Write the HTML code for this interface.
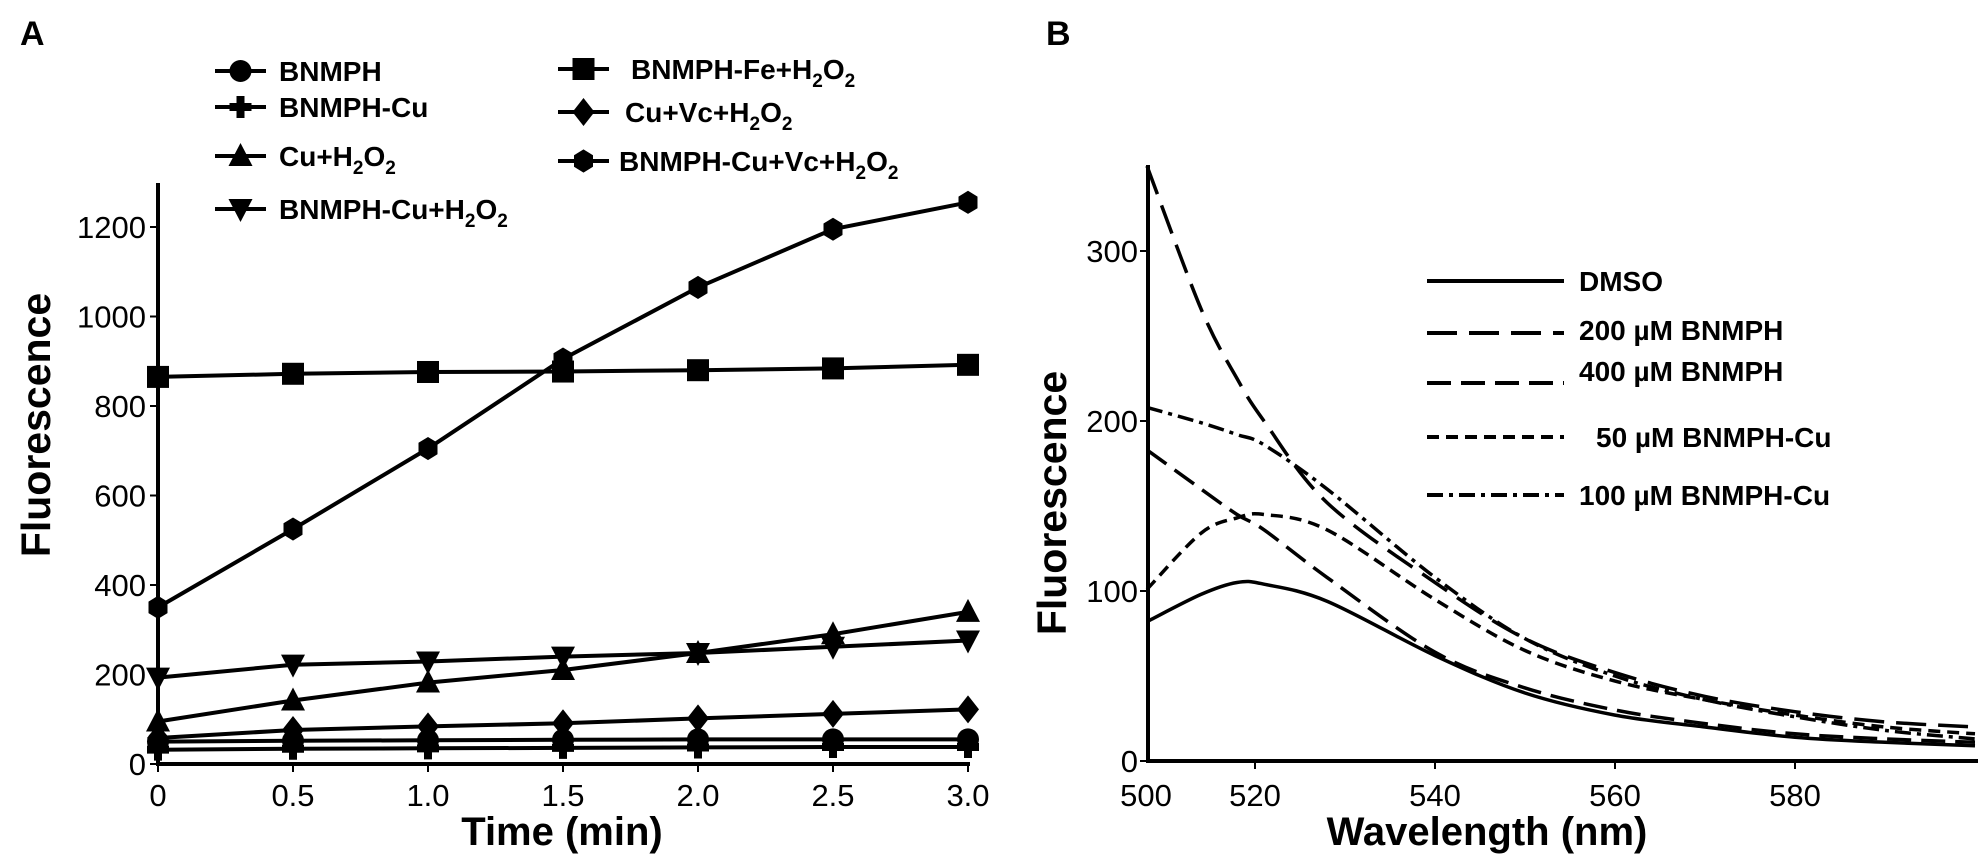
<!DOCTYPE html>
<html><head><meta charset="utf-8">
<style>
html,body{margin:0;padding:0;background:#fff;}
svg{display:block;font-family:"Liberation Sans",Arial,sans-serif;}
</style></head>
<body>
<svg id="fig" width="1978" height="865" viewBox="0 0 1978 865" xmlns="http://www.w3.org/2000/svg">
  <text x="20" y="45" font-size="34" font-weight="bold">A</text>
  <text x="1046" y="45" font-size="34" font-weight="bold">B</text>
  <g id="panelA"></g>
  <g id="panelB"></g>
</svg>
<script>
// ---------- Panel A data ----------
const timeCats = [0, 0.5, 1.0, 1.5, 2.0, 2.5, 3.0];
const xTicksA = ["0", "0.5", "1.0", "1.5", "2.0", "2.5", "3.0"];
const yTicksA = [0, 200, 400, 600, 800, 1000, 1200];
const sBNMPH = [50, 52, 53, 54, 55, 55, 55];
const sBNMPHCu = [32, 34, 35, 36, 37, 38, 38];
const sCuH2O2 = [95, 142, 182, 210, 248, 290, 340];
const sBNMPHCuH2O2 = [193, 222, 229, 240, 248, 262, 276];
const sFeH2O2 = [865, 872, 876, 877, 880, 884, 892];
const sCuVcH2O2 = [58, 76, 84, 91, 102, 112, 122];
const sCuVcBN = [350, 525, 705, 905, 1065, 1195, 1255];

// ---------- Panel B data ----------
const wl = [508, 514, 518, 521, 528, 540, 550, 560, 570, 580, 590, 600];
const yTicksB = [0, 100, 200, 300];
const xTicksB = [520, 540, 560, 580];
const bDMSO = [82, 98, 105, 104, 94, 62, 40, 27, 20, 14, 11, 9];
const b200 = [350, 266, 225, 200, 152, 105, 72, 52, 38, 29, 23, 20];
const b400 = [183, 160, 145, 136, 108, 64, 43, 30, 22, 16, 13, 11];
const b50 = [101, 134, 143, 145, 136, 95, 65, 47, 36, 27, 20, 16];
const b100 = [208, 199, 192, 186, 160, 108, 72, 50, 36, 26, 18, 13];

const NS = "http://www.w3.org/2000/svg";
function mk(tag, attrs, parent){const e=document.createElementNS(NS,tag);for(const k in attrs)e.setAttribute(k,attrs[k]);parent.appendChild(e);return e;}

// ===== Panel A =====
const gA = document.getElementById('panelA');
const AX0=158, AX1=968, AY0=764, AYT=183;
const xA = t => AX0 + t/3*(AX1-AX0);
const yA = v => AY0 - v/1200*(AY0-227);

let ax = mk('line',{x1:AX0,y1:AYT,x2:AX0,y2:AY0+2,stroke:'#000','stroke-width':4},gA);
 
ax = mk('line',{x1:AX0-2,y1:AY0,x2:AX1+2,y2:AY0,stroke:'#000','stroke-width':4},gA);
 
yTicksA.forEach(v=>{
  mk('line',{x1:AX0-8,y1:yA(v),x2:AX0,y2:yA(v),stroke:'#000','stroke-width':2},gA);
  const t=mk('text',{x:AX0-12,y:yA(v)+11,'font-size':31,'text-anchor':'end'},gA);
  t.textContent=v;
   
});
timeCats.forEach((c,i)=>{
  mk('line',{x1:xA(c),y1:AY0,x2:xA(c),y2:AY0+8,stroke:'#000','stroke-width':2},gA);
  const t=mk('text',{x:xA(c),y:806,'font-size':31,'text-anchor':'middle'},gA);
  t.textContent=xTicksA[i];
   
});
let tt=mk('text',{x:562,y:845,'font-size':40,'font-weight':'bold','text-anchor':'middle'},gA);
tt.textContent='Time (min)';
 
tt=mk('text',{x:0,y:0,'font-size':41,'font-weight':'bold','text-anchor':'middle',transform:'translate(50,425) rotate(-90)'},gA);
tt.textContent='Fluorescence';
 

function marker(type,cx,cy,parent){
  const r=11;
  let e;
  if(type==='circle') e=mk('circle',{cx,cy,r:r},parent);
  else if(type==='square') e=mk('rect',{x:cx-r,y:cy-r,width:2*r,height:2*r},parent);
  else if(type==='tri') e=mk('polygon',{points:`${cx},${cy-r-2} ${cx+r+1},${cy+r-1} ${cx-r-1},${cy+r-1}`},parent);
  else if(type==='dtri') e=mk('polygon',{points:`${cx},${cy+r+2} ${cx+r+1},${cy-r+1} ${cx-r-1},${cy-r+1}`},parent);
  else if(type==='diamond') e=mk('polygon',{points:`${cx},${cy-r-3} ${cx+r},${cy} ${cx},${cy+r+3} ${cx-r},${cy}`},parent);
  else if(type==='hex'){let p=[];for(let k=0;k<6;k++){const a=Math.PI/6+k*Math.PI/3;p.push((cx+r*Math.cos(a)).toFixed(1)+','+(cy+r*1.05*Math.sin(a)).toFixed(1));}e=mk('polygon',{points:p.join(' ')},parent);}
  else if(type==='plus'){e=mk('path',{d:`M${cx-4},${cy-r}h8v${r-4}h${r-4}v8h-${r-4}v${r-4}h-8v-${r-4}h-${r-4}v-8h${r-4}z`},parent);}
  e.setAttribute('fill','#000');
  return e;
}

const seriesA=[
  {name:'bnmph',vals:sBNMPH,m:'circle'},
  {name:'bnmph-cu',vals:sBNMPHCu,m:'plus'},
  {name:'cu-h2o2',vals:sCuH2O2,m:'tri'},
  {name:'bnmph-cu-h2o2',vals:sBNMPHCuH2O2,m:'dtri'},
  {name:'bnmph-fe-h2o2',vals:sFeH2O2,m:'square'},
  {name:'cu-vc-h2o2',vals:sCuVcH2O2,m:'diamond'},
  {name:'bnmph-cu-vc-h2o2',vals:sCuVcBN,m:'hex'}
];
seriesA.forEach(s=>{
  const g=mk('g',{},gA);
  
  
  const pts=s.vals.map((v,i)=>xA(timeCats[i]).toFixed(1)+','+yA(v).toFixed(1)).join(' ');
  const pl=mk('polyline',{points:pts,fill:'none',stroke:'#000','stroke-width':4},g);
  
  
  s.vals.forEach((v,i)=>{
    const mm=marker(s.m,xA(timeCats[i]),yA(v),g);
    
    
  });
});

function legA(x1,x2,y,m,tx,label,parent,name){
  const g=mk('g',{},parent);
  
  
  mk('line',{x1:x1,y1:y,x2:x2,y2:y,stroke:'#000','stroke-width':4},g);
  marker(m,(x1+x2)/2,y,g);
  const t=mk('text',{x:tx,y:y+10,'font-size':28,'font-weight':'bold'},g);
  t.innerHTML=label;
}
const sub='<tspan dy="8" font-size="19">2</tspan><tspan dy="-8">';
legA(215,266,71,'circle',279,'BNMPH',gA,'bnmph');
legA(215,266,107,'plus',279,'BNMPH-Cu',gA,'bnmph-cu');
legA(215,266,156,'tri',279,'Cu+H'+sub+'O</tspan>'+sub+'</tspan>',gA,'cu-h2o2');
legA(215,266,209,'dtri',279,'BNMPH-Cu+H'+sub+'O</tspan>'+sub+'</tspan>',gA,'bnmph-cu-h2o2');
legA(558,609,69,'square',631,'BNMPH-Fe+H'+sub+'O</tspan>'+sub+'</tspan>',gA,'bnmph-fe-h2o2');
legA(558,609,112,'diamond',625,'Cu+Vc+H'+sub+'O</tspan>'+sub+'</tspan>',gA,'cu-vc-h2o2');
legA(558,609,161,'hex',619,'BNMPH-Cu+Vc+H'+sub+'O</tspan>'+sub+'</tspan>',gA,'bnmph-cu-vc-h2o2');

// ===== Panel B =====
const gB=document.getElementById('panelB');
const BX0=1148, BY0=761, BYT=165;
const xB = w => 1255 + (w-520)*9;
const yB = v => BY0 - v*1.7;
ax=mk('line',{x1:BX0,y1:BYT,x2:BX0,y2:BY0+2,stroke:'#000','stroke-width':4},gB);
 
ax=mk('line',{x1:BX0-2,y1:BY0,x2:1978,y2:BY0,stroke:'#000','stroke-width':4},gB);
 
yTicksB.forEach(v=>{
  mk('line',{x1:BX0-8,y1:yB(v),x2:BX0,y2:yB(v),stroke:'#000','stroke-width':2},gB);
  const t=mk('text',{x:BX0-10,y:yB(v)+11,'font-size':31,'text-anchor':'end'},gB);
  t.textContent=v;
   
});
let t0=mk('text',{x:1146,y:806,'font-size':31,'text-anchor':'middle'},gB);
t0.textContent='500';
 
xTicksB.forEach(w=>{
  mk('line',{x1:xB(w),y1:BY0,x2:xB(w),y2:BY0+8,stroke:'#000','stroke-width':2},gB);
  const t=mk('text',{x:xB(w),y:806,'font-size':31,'text-anchor':'middle'},gB);
  t.textContent=w;
   
});
tt=mk('text',{x:1487,y:845,'font-size':40,'font-weight':'bold','text-anchor':'middle'},gB);
tt.textContent='Wavelength (nm)';
 
tt=mk('text',{x:0,y:0,'font-size':41,'font-weight':'bold','text-anchor':'middle',transform:'translate(1066,503) rotate(-90)'},gB);
tt.textContent='Fluorescence';
 

function smooth(xs,ys){
  const P=xs.map((w,i)=>[xB(w),yB(ys[i])]);
  let d='M'+P[0][0].toFixed(1)+','+P[0][1].toFixed(1);
  for(let i=0;i<P.length-1;i++){
    const p0=P[Math.max(0,i-1)],p1=P[i],p2=P[i+1],p3=P[Math.min(P.length-1,i+2)];
    const c1=[p1[0]+(p2[0]-p0[0])/6,p1[1]+(p2[1]-p0[1])/6];
    const c2=[p2[0]-(p3[0]-p1[0])/6,p2[1]-(p3[1]-p1[1])/6];
    d+=`C${c1[0].toFixed(1)},${c1[1].toFixed(1)} ${c2[0].toFixed(1)},${c2[1].toFixed(1)} ${p2[0].toFixed(1)},${p2[1].toFixed(1)}`;
  }
  return d;
}
const seriesB=[
  {name:'dmso',vals:bDMSO,dash:'none'},
  {name:'200um-bnmph',vals:b200,dash:'30 12'},
  {name:'400um-bnmph',vals:b400,dash:'24 10'},
  {name:'50um-bnmph-cu',vals:b50,dash:'12 7'},
  {name:'100um-bnmph-cu',vals:b100,dash:'16 6 4 6'}
];
seriesB.forEach(s=>{
  const p=mk('path',{d:smooth(wl,s.vals),fill:'none',stroke:'#000','stroke-width':3.5,'stroke-dasharray':s.dash},gB);
  
  
});
const legB=[
  ['dmso','none','DMSO',281,1579],
  ['200um-bnmph','30 12','200 µM BNMPH',333,1579],
  ['400um-bnmph','24 10','400 µM BNMPH',383,1579],
  ['50um-bnmph-cu','12 7','50 µM BNMPH-Cu',437,1596],
  ['100um-bnmph-cu','16 6 4 6','100 µM BNMPH-Cu',495,1579]
];
const textYB=[281,330,371,437,495];
legB.forEach((L,i)=>{
  const g=mk('g',{},gB);
  
  
  mk('line',{x1:1427,y1:L[3],x2:1564,y2:L[3],stroke:'#000','stroke-width':4,'stroke-dasharray':L[1]},g);
  const t=mk('text',{x:L[4],y:textYB[i]+10,'font-size':28,'font-weight':'bold'},g);
  t.textContent=L[2];
});
</script>
</body></html>
